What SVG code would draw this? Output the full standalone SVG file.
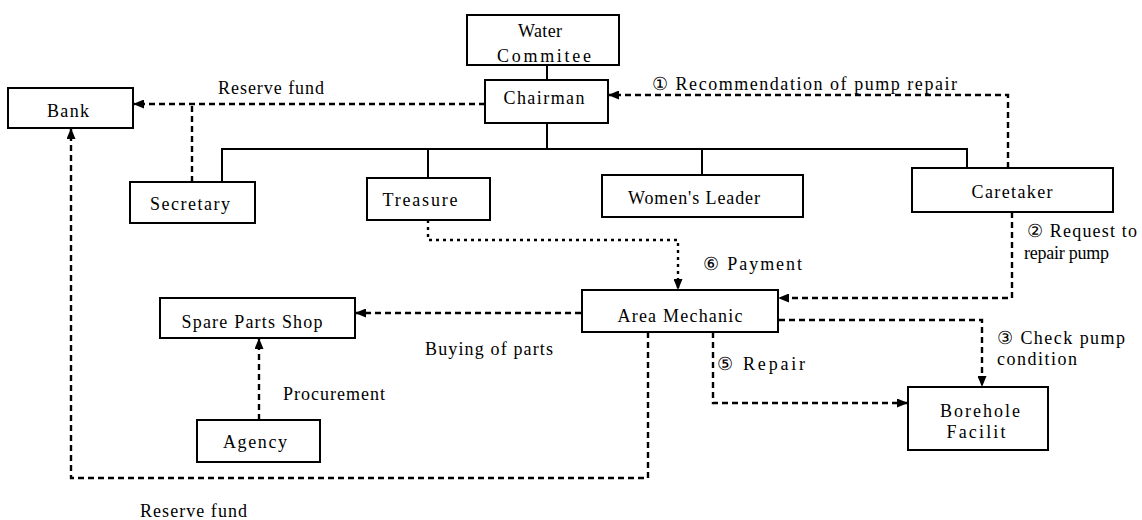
<svg xmlns="http://www.w3.org/2000/svg" width="1142" height="520" viewBox="0 0 1142 520">
<defs>
<marker id="ah" markerWidth="11" markerHeight="9" refX="10" refY="4.5" orient="auto" markerUnits="userSpaceOnUse">
<path d="M0,0 L11,4.5 L0,9 Z" fill="#000"/>
</marker>
<style>
.box{fill:#fff;stroke:#000;stroke-width:2}
.t{font-family:"Liberation Serif","DejaVu Serif",serif;font-size:18px;fill:#000;text-anchor:middle}
.l{font-family:"Liberation Serif","DejaVu Serif",serif;font-size:18px;fill:#000}
.solid{fill:none;stroke:#000;stroke-width:2}
.dash{fill:none;stroke:#000;stroke-width:2.4;stroke-dasharray:6,4}
.dot{fill:none;stroke:#000;stroke-width:2.4;stroke-dasharray:3,4}
</style>
</defs>
<rect width="1142" height="520" fill="#fff"/>
<g id="connectors">
<path class="solid" d="M547,65 V80"/>
<path class="solid" d="M547,123 V149"/>
<path class="solid" d="M222,182 V149 H967 V168"/>
<path class="solid" d="M428,149 V178"/>
<path class="solid" d="M702,149 V175"/>
<path class="dash" d="M192,182 V104"/>
<path class="dash" d="M485,104 H134" marker-end="url(#ah)"/>
<path class="dash" d="M1008,168 V95 H609" marker-end="url(#ah)"/>
<path class="dot" d="M428,220 V240 H678 V289" marker-end="url(#ah)"/>
<path class="dash" d="M1012,212 V298 H779" marker-end="url(#ah)"/>
<path class="dash" d="M779,320 H982 V386" marker-end="url(#ah)"/>
<path class="dash" d="M713,332 V403 H907" marker-end="url(#ah)"/>
<path class="dash" d="M581,313 H356" marker-end="url(#ah)"/>
<path class="dash" d="M259,420 V339" marker-end="url(#ah)"/>
<path class="dash" d="M648,332 V478 H71 V129" marker-end="url(#ah)"/>
</g>
<g id="n-water"><rect class="box" x="467" y="15" width="152" height="50"/><text class="t" x="540" y="37" textLength="44">Water</text><text class="t" x="544" y="62" textLength="94">Commitee</text></g>
<g id="n-chairman"><rect class="box" x="485" y="80" width="123" height="43"/><text class="t" x="544" y="104" textLength="81">Chairman</text></g>
<g id="n-bank"><rect class="box" x="8" y="88" width="125" height="40"/><text class="t" x="68" y="117" textLength="42">Bank</text></g>
<g id="n-secretary"><rect class="box" x="130" y="182" width="125" height="41"/><text class="t" x="190" y="210" textLength="80">Secretary</text></g>
<g id="n-treasure"><rect class="box" x="367" y="178" width="123" height="42"/><text class="t" x="420" y="206" textLength="75">Treasure</text></g>
<g id="n-women"><rect class="box" x="602" y="175" width="201" height="42"/><text class="t" x="694" y="204" textLength="132">Women's Leader</text></g>
<g id="n-caretaker"><rect class="box" x="912" y="168" width="201" height="44"/><text class="t" x="1012" y="198" textLength="81">Caretaker</text></g>
<g id="n-mechanic"><rect class="box" x="582" y="290" width="196" height="42"/><text class="t" x="680" y="322" textLength="125">Area Mechanic</text></g>
<g id="n-spare"><rect class="box" x="160" y="298" width="195" height="40"/><text class="t" x="252" y="328" textLength="141">Spare Parts Shop</text></g>
<g id="n-agency"><rect class="box" x="197" y="420" width="123" height="42"/><text class="t" x="255" y="448" textLength="64">Agency</text></g>
<g id="n-borehole"><rect class="box" x="908" y="387" width="140" height="63"/><text class="t" x="980" y="417" textLength="80">Borehole</text><text class="t" x="976" y="438" textLength="59">Facilit</text></g>
<g id="labels">
<text class="l" x="218" y="94" textLength="106">Reserve fund</text>
<text class="l" x="652" y="90" textLength="305">① Recommendation of pump repair</text>
<text class="l" x="703" y="270" textLength="99">⑥ Payment</text>
<text class="l" x="1027" y="237" textLength="110">② Request to</text>
<text class="l" x="1024" y="259" textLength="85">repair pump</text>
<text class="l" x="997" y="344" textLength="128">③ Check pump</text>
<text class="l" x="997" y="365" textLength="80">condition</text>
<text class="l" x="717" y="370" textLength="88">⑤ Repair</text>
<text class="l" x="425" y="355" textLength="128">Buying of parts</text>
<text class="l" x="283" y="400" textLength="102">Procurement</text>
<text class="l" x="140" y="517" textLength="107">Reserve fund</text>
</g>
</svg>
